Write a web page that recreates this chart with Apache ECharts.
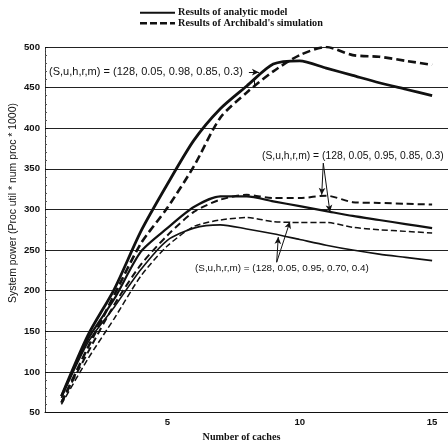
<!DOCTYPE html>
<html><head><meta charset="utf-8">
<script src="https://cdn.jsdelivr.net/npm/echarts@6/dist/echarts.min.js"></script>
<style>html,body{margin:0;padding:0;background:#fff}#c{width:448px;height:448px}</style>
</head><body><div id="c"></div>
<script>
const caches = [1,2,3,4,5,6,7,8,9,10,11,12,13,14,15];
// (S,u,h,r,m) = (128, 0.05, 0.98, 0.85, 0.3)
const analyticA = [70,145,202,273,331,385,424,452,479,483,474,465,456,448,440];
const simA      = [62,130,195,258,302,353,413,444,470,490,500,490,488,483,478];
// (S,u,h,r,m) = (128, 0.05, 0.95, 0.85, 0.3)
const analyticB = [70,140,190,248,277,303,316,316,310,304,298,292,287,282,277];
const simB      = [63,124,183,232,268,297,312,318,314,314,317,309,308,307,306];
// (S,u,h,r,m) = (128, 0.05, 0.95, 0.70, 0.4)
const analyticC = [68,136,180,226,262,277,281,276,270,263,256,250,245,241,237];
const simC      = [60,116,166,218,255,279,287,290,285,284,284,278,275,273,271];
const xTicks = [5,10,15];
const yTicks = [50,100,150,200,250,300,350,400,450,500];
const nameA = "Results of analytic model";
const nameS = "Results of Archibald's simulation";
const labelA = "(S,u,h,r,m) = (128, 0.05, 0.98, 0.85, 0.3)";
const labelB = "(S,u,h,r,m) = (128, 0.05, 0.95, 0.85, 0.3)";
const labelC = "(S,u,h,r,m) = (128, 0.05, 0.95, 0.70, 0.4)";
const xName = "Number of caches";
const yName = "System power (Proc util * num proc * 1000)";
// annotation arrows in data coordinates [from, to]
const arrowA = [[8.08,469],[8.46,469]];
const connA  = [[8.27,459],[8.27,451]];
const arrowsB = [[[10.89,357],[10.83,318]],[[10.89,357],[11.14,297]]];
const arrowsC = [[[9.13,235],[9.19,266]],[[9.13,235],[9.63,285]]];

// font size that makes a text span a given width
const ctx = document.createElement('canvas').getContext('2d');
function fit(text, weight, family, target){
  ctx.font = weight + ' 100px "' + family + '"';
  return 100 * target / ctx.measureText(text).width;
}
const SANS = 'Liberation Sans', SERIF = 'Liberation Serif';
const fsA = fit(labelA, 'normal', SANS, 194);
const fsB = fit(labelB, 'normal', SANS, 182);
const fsC = fit(labelC, 'normal', SANS, 174);
const fsLeg = (fit(nameA, 'bold', SERIF, 107) + fit(nameS, 'bold', SERIF, 148)) / 2;
const fsTick = fit('500', 'bold', SANS, 16);
const fsX = fit(xName, 'bold', SERIF, 78);
const fsY = fit(yName, 'normal', SANS, 200);

const pairs = v => caches.map((x,i)=>[x,v[i]]);
function mk(name, vals, width, dash){
  return {type:'line', name:name, data:pairs(vals), symbol:'none', showSymbol:false, smooth:0.25,
    lineStyle:{color:'#111', width:width, type: dash ? dash : 'solid'},
    itemStyle:{color:'#111'}, emphasis:{disabled:true}, silent:true, z:3};
}
const arrowLine = (a,b)=>[{coord:a,symbol:'none'},{coord:b,symbol:'arrow'}];
const plainLine = (a,b)=>[{coord:a,symbol:'none'},{coord:b,symbol:'none'}];
const series = [
  mk(nameA, analyticA, 2.8, null),
  mk(nameS, simA, 2.6, [8,4]),
  mk(nameA, analyticB, 2.2, null),
  mk(nameS, simB, 2.0, [7,4]),
  mk(nameA, analyticC, 1.6, null),
  mk(nameS, simC, 1.5, [6,3])
];
series[0].markLine = {silent:true, animation:false, symbolSize:[5,7],
  lineStyle:{color:'#111', width:1, type:'solid'}, label:{show:false}, emphasis:{disabled:true},
  data:[arrowLine(arrowA[0],arrowA[1]), plainLine(connA[0],connA[1]),
        arrowLine(arrowsB[0][0],arrowsB[0][1]), arrowLine(arrowsB[1][0],arrowsB[1][1]),
        arrowLine(arrowsC[0][0],arrowsC[0][1]), arrowLine(arrowsC[1][0],arrowsC[1][1])]};

const chart = echarts.init(document.getElementById('c'), null, {renderer:'canvas'});
const ann = (text, fs, x, y) => ({type:'text', x:x, y:y, z:10,
  style:{text:text, fontFamily:SANS, fontSize:fs, fill:'#111', verticalAlign:'middle', align:'left'}});
const legLine = (y, dash, w) => ({type:'line', z:10, shape:{x1:140, y1:y, x2:175, y2:y},
  style:{stroke:'#111', lineWidth:w, lineDash:dash}});
const legText = (text, y) => ({type:'text', x:178, y:y, z:10,
  style:{text:text, fontFamily:SERIF, fontWeight:'bold', fontSize:fsLeg, fill:'#111', verticalAlign:'middle', align:'left'}});
chart.setOption({
  animation:false,
  backgroundColor:'#fff',
  grid:{left:45, right:0, top:47, bottom:35.5, containLabel:false},
  xAxis:{type:'value', min:0.38, max:15.6, name:xName, nameLocation:'middle', nameGap:20,
    nameTextStyle:{fontFamily:SERIF, fontWeight:'bold', fontSize:fsX, color:'#111', padding:[0,0,0,-10]},
    axisLine:{lineStyle:{color:'#111', width:1}},
    axisTick:{show:false},
    axisLabel:{customValues:xTicks, fontFamily:SANS, fontWeight:'bold', fontSize:fsTick, color:'#111', margin:5},
    splitLine:{show:false}},
  yAxis:{type:'value', min:50, max:500, interval:50,
    axisLine:{show:true, lineStyle:{color:'#333', width:1, type:[2,1]}},
    axisTick:{show:true, inside:true, length:3, lineStyle:{color:'#111'}},
    minorTick:{show:true, splitNumber:5, length:2, lineStyle:{color:'#555'}},
    axisLabel:{fontFamily:SANS, fontWeight:'bold', fontSize:fsTick, color:'#111', margin:5},
    splitLine:{show:true, lineStyle:{color:'#222', width:1}}},
  series:series,
  graphic:[
    legLine(12.7, null, 2), legText(nameA, 12.7),
    legLine(23.3, [7,3], 2.4), legText(nameS, 23.3),
    ann(labelA, fsA, 49, 72),
    ann(labelB, fsB, 262, 156),
    ann(labelC, fsC, 195, 268),
    {type:'text', x:13, y:203, rotation:Math.PI/2, z:10,
     style:{text:yName, fontFamily:SANS, fontSize:fsY, fill:'#111', align:'center', verticalAlign:'middle'}}
  ]
});
</script></body></html>
